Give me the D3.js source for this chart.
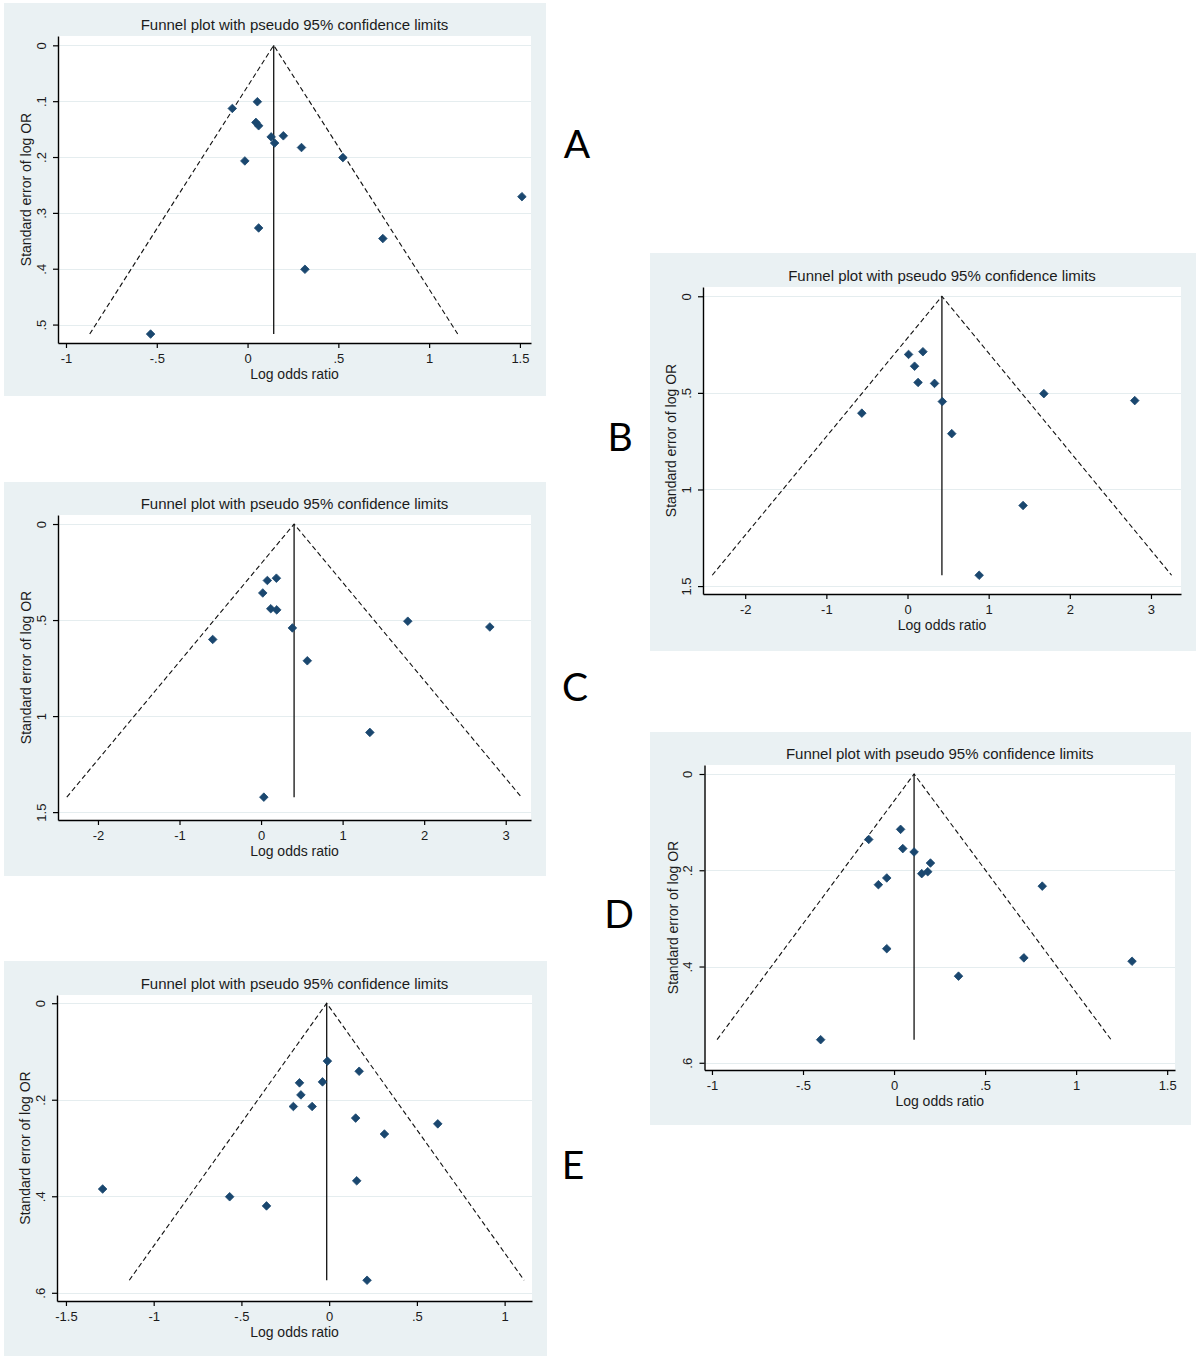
<!DOCTYPE html>
<html>
<head>
<meta charset="utf-8">
<script src="https://cdn.jsdelivr.net/npm/d3@7"></script>
<style>
  html, body { margin: 0; padding: 0; background: #ffffff; }
  svg { display: block; }
</style>
</head>
<body>
<svg id="chart" width="1200" height="1359"></svg>
<script>
// ---------------- DATA ----------------
const titleText = "Funnel plot with pseudo 95% confidence limits";
const xAxisTitle = "Log odds ratio";
const yAxisTitle = "Standard error of log OR";
const panelLetters = ["A", "B", "C", "D", "E"];

// Panel A
const A_logOR = [0.054, -0.084, 0.046, 0.061, 0.130, 0.197, 0.149, 0.297, -0.015, 0.525, 1.511, 0.061, 0.745, 0.316, -0.534];
const A_se    = [0.101, 0.113, 0.138, 0.144, 0.164, 0.162, 0.175, 0.183, 0.207, 0.201, 0.271, 0.327, 0.346, 0.401, 0.517];
const A_pooled = 0.144;
const A_seMax = 0.517;
const A_xTicks = [-1, -0.5, 0, 0.5, 1, 1.5];
const A_xTickLabels = ["-1", "-.5", "0", ".5", "1", "1.5"];
const A_yTicks = [0, 0.1, 0.2, 0.3, 0.4, 0.5];
const A_yTickLabels = ["0", ".1", ".2", ".3", ".4", ".5"];

// Panel B
const B_logOR = [0.013, 0.190, 0.087, 0.130, 0.333, 1.680, 2.800, 0.429, -0.563, 0.545, 1.424, 0.883];
const B_se    = [0.301, 0.287, 0.362, 0.446, 0.451, 0.504, 0.540, 0.545, 0.605, 0.711, 1.083, 1.444];
const B_pooled = 0.424;
const B_seMax = 1.444;
const B_xTicks = [-2, -1, 0, 1, 2, 3];
const B_xTickLabels = ["-2", "-1", "0", "1", "2", "3"];
const B_yTicks = [0, 0.5, 1, 1.5];
const B_yTickLabels = ["0", ".5", "1", "1.5"];

// Panel C
const C_logOR = [0.077, 0.188, 0.021, 0.119, 0.192, 1.799, 2.805, 0.384, -0.593, 0.567, 1.334, 0.034];
const C_se    = [0.294, 0.282, 0.359, 0.441, 0.447, 0.506, 0.536, 0.541, 0.601, 0.712, 1.085, 1.422];
const C_pooled = 0.405;
const C_seMax = 1.422;
const C_xTicks = [-2, -1, 0, 1, 2, 3];
const C_xTickLabels = ["-2", "-1", "0", "1", "2", "3"];
const C_yTicks = [0, 0.5, 1, 1.5];
const C_yTickLabels = ["0", ".5", "1", "1.5"];

// Panel D
const D_logOR = [0.036, -0.139, 0.048, 0.110, 0.200, 0.152, 0.185, -0.040, -0.086, 0.814, -0.040, 0.713, 1.307, 0.354, -0.403];
const D_se    = [0.115, 0.136, 0.155, 0.162, 0.185, 0.207, 0.203, 0.216, 0.230, 0.233, 0.363, 0.382, 0.389, 0.420, 0.552];
const D_pooled = 0.110;
const D_seMax = 0.552;
const D_xTicks = [-1, -0.5, 0, 0.5, 1, 1.5];
const D_xTickLabels = ["-1", "-.5", "0", ".5", "1", "1.5"];
const D_yTicks = [0, 0.2, 0.4, 0.6];
const D_yTickLabels = ["0", ".2", ".4", ".6"];

// Panel E
const E_logOR = [-0.010, 0.171, -0.169, -0.038, -0.161, -0.204, -0.097, 0.151, 0.619, 0.315, 0.157, -1.291, -0.567, -0.357, 0.216];
const E_se    = [0.120, 0.141, 0.165, 0.163, 0.190, 0.214, 0.214, 0.238, 0.250, 0.271, 0.368, 0.385, 0.401, 0.420, 0.574];
const E_pooled = -0.014;
const E_seMax = 0.574;
const E_xTicks = [-1.5, -1, -0.5, 0, 0.5, 1];
const E_xTickLabels = ["-1.5", "-1", "-.5", "0", ".5", "1"];
const E_yTicks = [0, 0.2, 0.4, 0.6];
const E_yTickLabels = ["0", ".2", ".4", ".6"];

// ---------------- LAYOUT ----------------
const layout = {
  A: { box: [4, 3, 542, 393],   plot: [58, 36, 531, 343],    xDom: [-1.044, 1.561], yDom: [-0.0167, 0.533], letter: [577, 158] },
  B: { box: [650, 253, 546, 398], plot: [703, 287, 1181, 594], xDom: [-2.52, 3.37],   yDom: [-0.048, 1.541],  letter: [620, 451] },
  C: { box: [4, 482, 542, 394], plot: [58, 515, 531, 820],   xDom: [-2.49, 3.31],   yDom: [-0.047, 1.541],  letter: [575, 701] },
  D: { box: [650, 732, 541, 393], plot: [704.5, 765, 1175, 1070], xDom: [-1.041, 1.543], yDom: [-0.0187, 0.615], letter: [619, 928] },
  E: { box: [4, 961, 543, 395], plot: [57, 995, 532, 1301],  xDom: [-1.551, 1.156], yDom: [-0.017, 0.617],  letter: [573, 1179] }
};

const panelData = {
  A: { x: A_logOR, se: A_se, pooled: A_pooled, seMax: A_seMax, xt: A_xTicks, xl: A_xTickLabels, yt: A_yTicks, yl: A_yTickLabels },
  B: { x: B_logOR, se: B_se, pooled: B_pooled, seMax: B_seMax, xt: B_xTicks, xl: B_xTickLabels, yt: B_yTicks, yl: B_yTickLabels },
  C: { x: C_logOR, se: C_se, pooled: C_pooled, seMax: C_seMax, xt: C_xTicks, xl: C_xTickLabels, yt: C_yTicks, yl: C_yTickLabels },
  D: { x: D_logOR, se: D_se, pooled: D_pooled, seMax: D_seMax, xt: D_xTicks, xl: D_xTickLabels, yt: D_yTicks, yl: D_yTickLabels },
  E: { x: E_logOR, se: E_se, pooled: E_pooled, seMax: E_seMax, xt: E_xTicks, xl: E_xTickLabels, yt: E_yTicks, yl: E_yTickLabels }
};

const FONT = "'Liberation Sans', Arial, sans-serif";
const TEXT = "#1b1b1b";
const BG = "#eaf1f3";
const GRID = "#e5edef";
const MARK = "#1a476f";

const svg = d3.select("#chart");

panelLetters.forEach(key => {
  const L = layout[key];
  const P = panelData[key];
  const g = svg.append("g").attr("class", "panel-" + key);

  // panel background
  g.append("rect")
    .attr("x", L.box[0]).attr("y", L.box[1])
    .attr("width", L.box[2]).attr("height", L.box[3])
    .attr("fill", BG);

  const [pl, pt, pr, pb] = L.plot;
  const x = d3.scaleLinear().domain(L.xDom).range([pl, pr]);
  const y = d3.scaleLinear().domain(L.yDom).range([pt, pb]);

  // plot region
  g.append("rect")
    .attr("x", pl).attr("y", pt)
    .attr("width", pr - pl).attr("height", pb - pt)
    .attr("fill", "#ffffff");

  // gridlines
  g.append("g").selectAll("line").data(P.yt).join("line")
    .attr("x1", pl).attr("x2", pr)
    .attr("y1", d => Math.round(y(d)) + 0.5).attr("y2", d => Math.round(y(d)) + 0.5)
    .attr("stroke", GRID).attr("stroke-width", 1);

  // title
  g.append("text")
    .attr("x", (pl + pr) / 2).attr("y", pt - 6)
    .attr("text-anchor", "middle")
    .attr("font-family", FONT).attr("font-size", 15)
    .attr("fill", TEXT)
    .text(titleText);

  // x axis
  const xAxis = d3.axisBottom(x)
    .tickValues(P.xt)
    .tickFormat((d, i) => P.xl[i])
    .tickSize(5).tickSizeOuter(0);
  const gx = g.append("g").attr("transform", `translate(0,${pb})`).call(xAxis);
  gx.select(".domain").attr("stroke", "#000").attr("stroke-width", 1.4);
  gx.selectAll(".tick line").attr("stroke", "#000").attr("stroke-width", 1.2);
  gx.selectAll(".tick text")
    .attr("y", 20).attr("dy", 0)
    .attr("font-family", FONT).attr("font-size", 13).attr("fill", TEXT);

  // y axis
  const yAxis = d3.axisLeft(y)
    .tickValues(P.yt)
    .tickFormat((d, i) => P.yl[i])
    .tickSize(5).tickSizeOuter(0);
  const gy = g.append("g").attr("transform", `translate(${pl},0)`).call(yAxis);
  gy.select(".domain").attr("stroke", "#000").attr("stroke-width", 1.4);
  gy.selectAll(".tick line").attr("stroke", "#000").attr("stroke-width", 1.2);
  gy.selectAll(".tick text")
    .attr("x", 0).attr("y", -12.5).attr("dy", 0)
    .attr("transform", "rotate(-90)")
    .attr("text-anchor", "middle")
    .attr("font-family", FONT).attr("font-size", 13).attr("fill", TEXT);

  // axis titles
  g.append("text")
    .attr("x", (pl + pr) / 2).attr("y", pb + 35.5)
    .attr("text-anchor", "middle")
    .attr("font-family", FONT).attr("font-size", 14).attr("fill", TEXT)
    .text(xAxisTitle);
  g.append("text")
    .attr("transform", `translate(${pl - 27},${(pt + pb) / 2}) rotate(-90)`)
    .attr("text-anchor", "middle")
    .attr("font-family", FONT).attr("font-size", 14).attr("fill", TEXT)
    .text(yAxisTitle);

  // funnel (pseudo 95% limits)
  const z = 1.96;
  const funnelPts = [
    [P.pooled - z * P.seMax, P.seMax],
    [P.pooled, 0],
    [P.pooled + z * P.seMax, P.seMax]
  ];
  g.append("path")
    .attr("d", d3.line().x(d => x(d[0])).y(d => y(d[1]))(funnelPts))
    .attr("fill", "none").attr("stroke", "#111").attr("stroke-width", 1.1)
    .attr("stroke-dasharray", "5,3");

  // pooled estimate line
  g.append("line")
    .attr("x1", x(P.pooled)).attr("x2", x(P.pooled))
    .attr("y1", y(0)).attr("y2", y(P.seMax))
    .attr("stroke", "#111").attr("stroke-width", 1.3);

  // study markers
  const pts = P.x.map((v, i) => ({ x: v, se: P.se[i] }));
  g.append("g").selectAll("path").data(pts).join("path")
    .attr("transform", d => `translate(${x(d.x)},${y(d.se)})`)
    .attr("d", "M0,-4.3L4.3,0L0,4.3L-4.3,0Z")
    .attr("fill", MARK)
    .attr("stroke", MARK).attr("stroke-width", 0.8).attr("stroke-linejoin", "round");

  // panel letter
  svg.append("text")
    .attr("x", L.letter[0]).attr("y", L.letter[1])
    .attr("text-anchor", "middle")
    .attr("font-family", "Lato, 'Open Sans', sans-serif")
    .attr("font-size", 39).attr("fill", "#000")
    .text(key);
});
</script>
</body>
</html>
